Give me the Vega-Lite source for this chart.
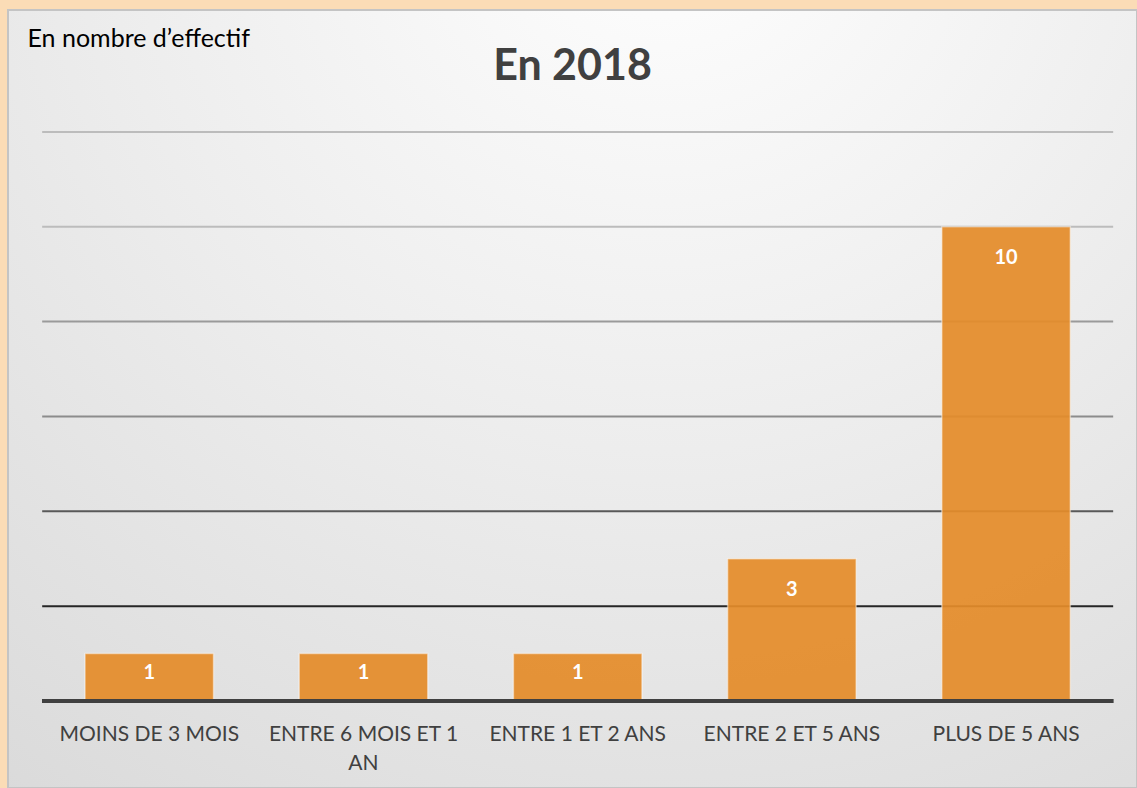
{
  "$schema": "https://vega.github.io/schema/vega-lite/v6.json",
  "width": 1129,
  "height": 778,
  "autosize": {"type": "none"},
  "padding": {"left": 8, "top": 10, "right": 0, "bottom": 0},
  "background": "#fbdcb6",
  "config": {
    "font": "Lato",
    "view": {
      "fill": {
        "gradient": "radial",
        "x1": 0.58, "y1": 0.05, "r1": 0,
        "x2": 0.58, "y2": 0.05, "r2": 1.1,
        "stops": [
          {"offset": 0, "color": "#ffffff"},
          {"offset": 0.45, "color": "#ededed"},
          {"offset": 1, "color": "#d6d6d6"}
        ]
      },
      "stroke": "#c4c4c4",
      "strokeWidth": 2
    },
    "axisX": {
      "orient": "bottom",
      "offset": -87,
      "domain": false,
      "ticks": false,
      "grid": false,
      "labelAngle": 0,
      "labelFont": "Lato",
      "labelFontSize": 21,
      "labelColor": "#404040",
      "labelPadding": 22,
      "labelBaseline": "top",
      "labelLineHeight": 29,
      "labelLimit": 300,
      "labelExpr": "datum.label == 'ENTRE 6 MOIS ET 1 AN' ? ['ENTRE 6 MOIS ET 1', 'AN'] : datum.label"
    },
    "axisY": {
      "titleAngle": 0,
      "titleX": 19,
      "titleY": 36,
      "titleAlign": "left",
      "titleBaseline": "alphabetic",
      "titleFont": "Lato",
      "titleFontSize": 25,
      "titleFontWeight": "normal",
      "titleColor": "#000000",
      "labels": false,
      "ticks": false,
      "domain": false,
      "grid": false
    }
  },
  "title": {
    "text": "En 2018",
    "font": "Lato",
    "fontSize": 43,
    "fontWeight": "bold",
    "color": "#404040",
    "anchor": "middle",
    "frame": "group",
    "baseline": "alphabetic",
    "offset": 0,
    "dy": 113
  },
  "datasets": {
    "bars": [
      {"cat": "MOINS DE 3 MOIS", "n": 1},
      {"cat": "ENTRE 6 MOIS ET 1 AN", "n": 1},
      {"cat": "ENTRE 1 ET 2 ANS", "n": 1},
      {"cat": "ENTRE 2 ET 5 ANS", "n": 3},
      {"cat": "PLUS DE 5 ANS", "n": 10}
    ],
    "grid": [
      {"v": 2}, {"v": 4}, {"v": 6}, {"v": 8}, {"v": 10}, {"v": 12}
    ]
  },
  "layer": [
    {
      "data": {"name": "grid"},
      "mark": {"type": "rule", "strokeWidth": 2},
      "encoding": {
        "x": {
          "datum": "MOINS DE 3 MOIS",
          "type": "nominal",
          "bandPosition": -0.3333,
          "title": null,
          "scale": {
            "domain": ["MOINS DE 3 MOIS", "ENTRE 6 MOIS ET 1 AN", "ENTRE 1 ET 2 ANS", "ENTRE 2 ET 5 ANS", "PLUS DE 5 ANS"],
            "paddingInner": 0.4, "paddingOuter": 0.3354, "align": 0.536
          }
        },
        "x2": {"datum": "PLUS DE 5 ANS", "bandPosition": 1.3333},
        "y": {
          "field": "v",
          "type": "quantitative",
          "title": "En nombre d’effectif",
          "scale": {"domain": [-1.835, 14.57], "nice": false, "zero": false}
        },
        "color": {
          "field": "v",
          "type": "ordinal",
          "legend": null,
          "scale": {
            "domain": [2, 4, 6, 8, 10, 12],
            "range": ["#262626", "#595959", "#8c8c8c", "#9a9a9a", "#bcbcbc", "#bcbcbc"]
          }
        }
      }
    },
    {
      "data": {"name": "bars"},
      "mark": {"type": "bar", "fill": "#e48c2a", "fillOpacity": 0.93, "stroke": "#ffffff", "strokeOpacity": 0.45, "strokeWidth": 1.5},
      "encoding": {
        "x": {"field": "cat", "type": "nominal", "sort": null, "title": null},
        "y": {"field": "n", "type": "quantitative", "title": "En nombre d’effectif"}
      }
    },
    {
      "data": {"name": "bars"},
      "mark": {"type": "rule", "strokeWidth": 4, "color": "#404040"},
      "encoding": {
        "x": {"datum": "MOINS DE 3 MOIS", "type": "nominal", "bandPosition": -0.3333, "title": null},
        "x2": {"datum": "PLUS DE 5 ANS", "bandPosition": 1.3333},
        "y": {"datum": 0, "type": "quantitative", "title": "En nombre d’effectif"}
      }
    },
    {
      "data": {"name": "bars"},
      "transform": [{"filter": "datum.n >= 2"}],
      "mark": {"type": "text", "color": "#ffffff", "fontWeight": "bold", "fontSize": 20, "font": "Lato", "baseline": "middle", "dy": 31},
      "encoding": {
        "x": {"field": "cat", "type": "nominal", "sort": null, "title": null},
        "y": {"field": "n", "type": "quantitative", "title": "En nombre d’effectif"},
        "text": {"field": "n", "type": "quantitative"}
      }
    },
    {
      "data": {"name": "bars"},
      "transform": [{"filter": "datum.n < 2"}],
      "mark": {"type": "text", "color": "#ffffff", "fontWeight": "bold", "fontSize": 20, "font": "Lato", "baseline": "middle", "dy": 19},
      "encoding": {
        "x": {"field": "cat", "type": "nominal", "sort": null, "title": null},
        "y": {"field": "n", "type": "quantitative", "title": "En nombre d’effectif"},
        "text": {"field": "n", "type": "quantitative"}
      }
    }
  ]
}
